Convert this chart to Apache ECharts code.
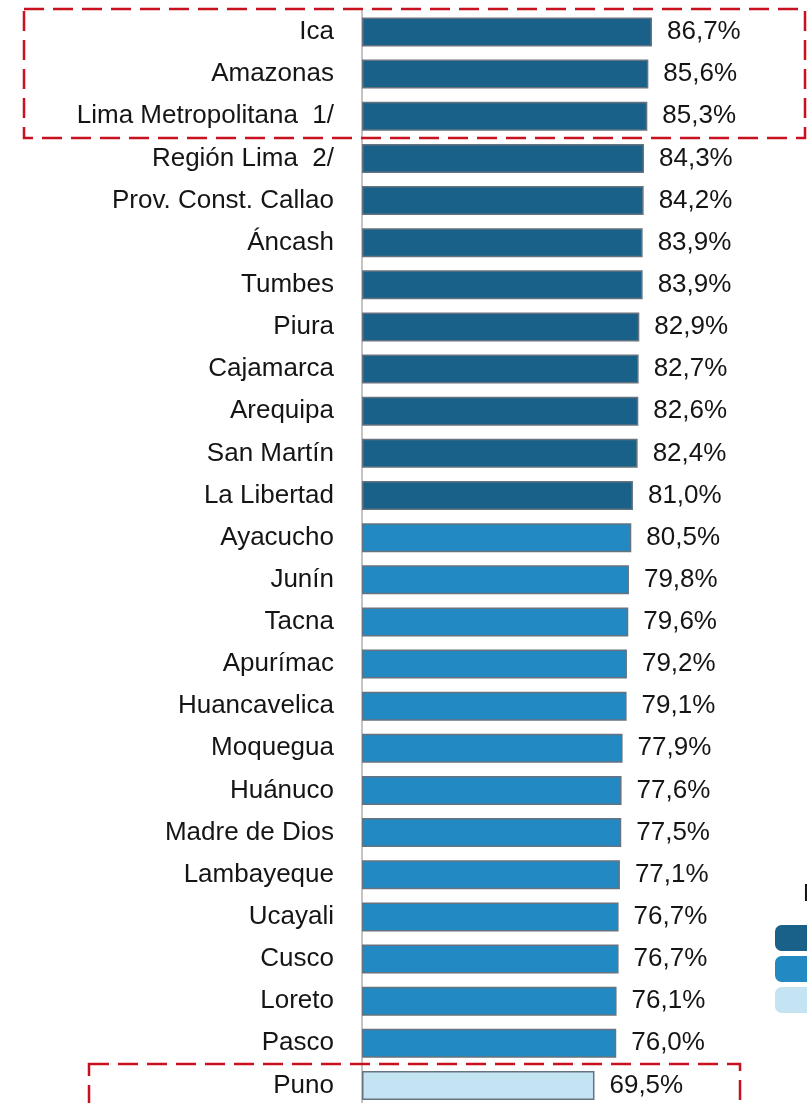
<!DOCTYPE html>
<html><head><meta charset="utf-8">
<script src="https://cdn.jsdelivr.net/npm/echarts@6/dist/echarts.min.js"></script>
<style>html,body{margin:0;padding:0;background:#fff;overflow:hidden}#c{width:807px;height:1112px}</style>
</head><body><div id="c"></div>
<script>
const categories = ["Ica","Amazonas","Lima Metropolitana  1/","Región Lima  2/","Prov. Const. Callao","Áncash","Tumbes","Piura","Cajamarca","Arequipa","San Martín","La Libertad","Ayacucho","Junín","Tacna","Apurímac","Huancavelica","Moquegua","Huánuco","Madre de Dios","Lambayeque","Ucayali","Cusco","Loreto","Pasco","Puno"];
const values = [86.7,85.6,85.3,84.3,84.2,83.9,83.9,82.9,82.7,82.6,82.4,81.0,80.5,79.8,79.6,79.2,79.1,77.9,77.6,77.5,77.1,76.7,76.7,76.1,76.0,69.5];
const groups = ["Alto","Medio","Bajo"];
const groupOf = ["Alto","Alto","Alto","Alto","Alto","Alto","Alto","Alto","Alto","Alto","Alto","Alto","Medio","Medio","Medio","Medio","Medio","Medio","Medio","Medio","Medio","Medio","Medio","Medio","Medio","Bajo"];
const colors = {"Alto":"#1a6189","Medio":"#2389c2","Bajo":"#c4e4f4"};

const chart = echarts.init(document.getElementById('c'), null, {renderer:'canvas'});
const font = '"Liberation Sans", Arial, sans-serif';
const series = groups.map(g => ({
  name: g, type: 'bar', stack: 'a', barWidth: 29,
  itemStyle: {color: colors[g], borderColor: '#66737e', borderWidth: 1.5},
  label: {show: true, position: 'right', distance: 15, color: '#151515', fontFamily: font, fontSize: 26,
    formatter: p => p.value.toFixed(1).replace('.', ',') + '%'},
  data: values.map((v,i) => groupOf[i] === g ? v : '-')
}));
chart.setOption({
  animation: false,
  grid: {left: 362, right: 110.5, top: 10.9, height: 1095.6},
  legend: {orient: 'vertical', left: 770, top: 920, itemWidth: 44, itemHeight: 26, itemGap: 5,
    icon: 'roundRect', data: groups, itemStyle: {borderWidth: 0},
    textStyle: {fontFamily: font, fontSize: 12, color: '#111'}},
  xAxis: {type: 'value', min: 0, max: 100, show: false},
  yAxis: {type: 'category', inverse: true, data: categories,
    axisLine: {lineStyle: {color: '#c4c4c4', width: 2}},
    axisTick: {length: 9, lineStyle: {color: '#bdbdbd', width: 2}},
    axisLabel: {margin: 28, color: '#151515', fontFamily: font, fontSize: 26}},
  series: series,
  graphic: [
    {type: 'rect', z: 10, shape: {x: 24, y: 9, width: 781, height: 129},
      style: {fill: null, stroke: '#c8101e', lineWidth: 2.5, lineDash: [20, 9]}},
    {type: 'rect', z: 10, shape: {x: 89, y: 1064, width: 651, height: 80},
      style: {fill: null, stroke: '#c8101e', lineWidth: 2.5, lineDash: [20, 9]}},
    {type: 'text', left: 803, top: 882, style: {text: 'Nivel', fontFamily: font, fontSize: 24, fill: '#111'}}
  ]
});
</script></body></html>
